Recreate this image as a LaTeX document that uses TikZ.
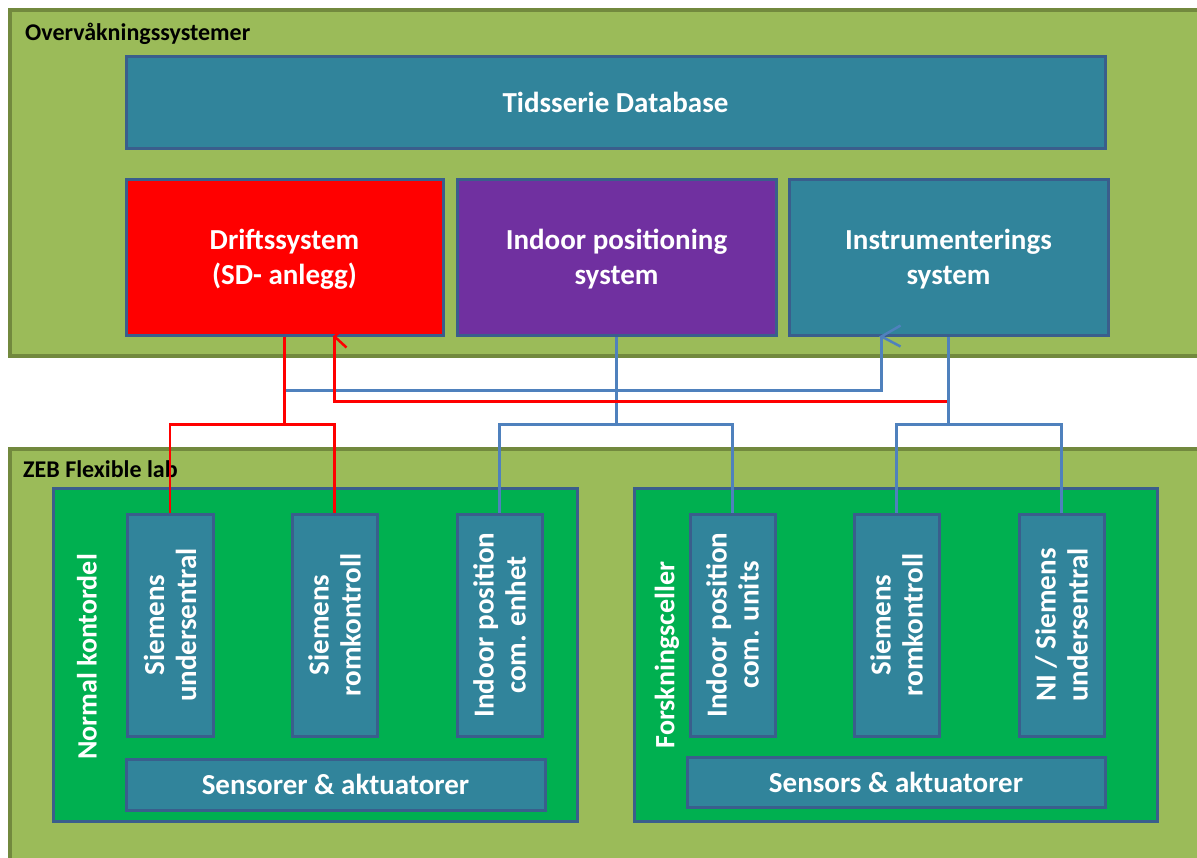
\documentclass[tikz,border=0pt]{standalone}
\usepackage{fontspec}
\setmainfont{Carlito}
\usetikzlibrary{fit,calc}
\definecolor{olivefill}{HTML}{9BBB59}
\definecolor{oliveline}{HTML}{72893E}
\definecolor{tealfill}{HTML}{31849B}
\definecolor{boxline}{HTML}{3A5E8C}
\definecolor{greenfill}{HTML}{00B050}
\definecolor{purplefill}{HTML}{7030A0}
\definecolor{blueline}{HTML}{4F81BD}
\tikzset{
  outerbox/.style={draw=oliveline, fill=olivefill, line width=4.5pt, inner sep=0pt},
  tealbox/.style={draw=boxline, fill=tealfill, line width=3pt, inner sep=0pt},
  redbox/.style={tealbox, fill=red},
  purplebox/.style={tealbox, fill=purplefill},
  greenbox/.style={tealbox, fill=greenfill},
  bigtxt/.style={text=white, font=\fontsize{29}{35}\selectfont\bfseries, align=center, inner sep=0pt},
  rottxt/.style={bigtxt, rotate=90, font=\fontsize{29}{32}\selectfont\bfseries},
  titletxt/.style={text=black, font=\fontsize{24}{28}\selectfont\bfseries, inner sep=0pt},
  redline/.style={draw=red, line width=2.5pt},
  blueconn/.style={draw=blueline, line width=2.5pt},
}
\begin{document}
\begin{tikzpicture}[x=1pt, y=-1pt]
\useasboundingbox (0,0) rectangle (1197,857);
% outer containers
\node[outerbox, fit={(10,10) (1215,356)}] (ov) {};
\node[outerbox, fit={(10,449) (1215,875)}] (zeb) {};
\node[titletxt, anchor=base west] (ovt) at (25,40) {Overvåkningssystemer};
\node[titletxt, anchor=base west] (zebt) at (23,477) {ZEB Flexible lab};
% upper boxes
\node[tealbox, fit={(126,56) (1105,148)}] (db) {};
\node[bigtxt] (dbt) at (db) {Tidsserie Database};
\node[redbox, fit={(126,179) (443,335)}] (drift) {};
\node[bigtxt] (driftt) at ($(drift)+(0,2)$) {Driftssystem\\(SD- anlegg)};
\node[purplebox, fit={(457,179) (776,335)}] (ips) {};
\node[bigtxt] (ipst) at ($(ips)+(0,2)$) {Indoor positioning\\system};
\node[tealbox, fit={(789,179) (1108,335)}] (instr) {};
\node[bigtxt] (instrt) at ($(instr)+(0,2)$) {Instrumenterings\\system};
% lab groups
\node[greenbox, fit={(53,488) (577,821)}] (nk) {};
\node[rottxt, font=\fontsize{28}{32}\selectfont\bfseries] (nkt) at (87,657) {Normal kontordel};
\node[greenbox, fit={(634,488) (1157,821)}] (fc) {};
\node[rottxt, font=\fontsize{28}{32}\selectfont\bfseries] (fct) at (667,655) {Forskningsceller};
% small boxes left
\node[tealbox, fit={(127,514) (213,736)}] (su1) {};
\node[rottxt] (su1t) at (su1) {Siemens\\undersentral};
\node[tealbox, fit={(292,514) (377,736)}] (rk1) {};
\node[rottxt] (rk1t) at (rk1) {Siemens\\romkontroll};
\node[tealbox, fit={(457,514) (542,736)}] (ipe) {};
\node[rottxt] (ipet) at (ipe) {Indoor position\\com. enhet};
\node[tealbox, fit={(126,759) (545,810)}] (sa1) {};
\node[bigtxt] (sa1t) at (sa1) {Sensorer \& aktuatorer};
% small boxes right
\node[tealbox, fit={(690,514) (775,736)}] (ipu) {};
\node[rottxt] (ipAt) at (ipu) {Indoor position\\com. units};
\node[tealbox, fit={(854,514) (939,736)}] (rk2) {};
\node[rottxt] (rk2t) at (rk2) {Siemens\\romkontroll};
\node[tealbox, fit={(1019,514) (1104,736)}] (ni) {};
\node[rottxt] (nit) at (ni) {NI / Siemens\\undersentral};
\node[tealbox, fit={(687,757) (1105,807)}] (sa2) {};
\node[bigtxt] (sa2t) at (sa2) {Sensors \& aktuatorer};
% connectors
\coordinate (btip) at ($(instr.south)+(-67,0)$);
\coordinate (rtip) at (rk1.north |- drift.south);
% blue: Driftssystem -> Instrumenterings
\draw[blueconn] (drift.south) -- ++(0,54) -| (btip);
\draw[blueconn] (btip) ++(19,-11) -- (btip) -- ++(19,10);
% blue: indoor positioning
\draw[blueconn] (ips.south) -- ++(0,88) -| (ipe.north);
\draw[blueconn] (ips.south) ++(0,88) -| (ipu.north);
% red: Instrumenterings -> Driftssystem
\draw[redline] ($(instr.south)+(0,65)$) -| (rtip);
\draw[redline] (rtip) ++(12,-11) -- (rtip) -- ++(12,11);
% blue: instrumenterings
\draw[blueconn] (instr.south) -- ++(0,88) -| (rk2.north);
\draw[blueconn] (instr.south) ++(0,88) -| (ni.north);
% red: Driftssystem to Siemens boxes
\draw[redline] (drift.south) -- ++(0,88) -| (su1.north);
\draw[redline] (drift.south) ++(0,88) -| (rk1.north);
\end{tikzpicture}
\end{document}
